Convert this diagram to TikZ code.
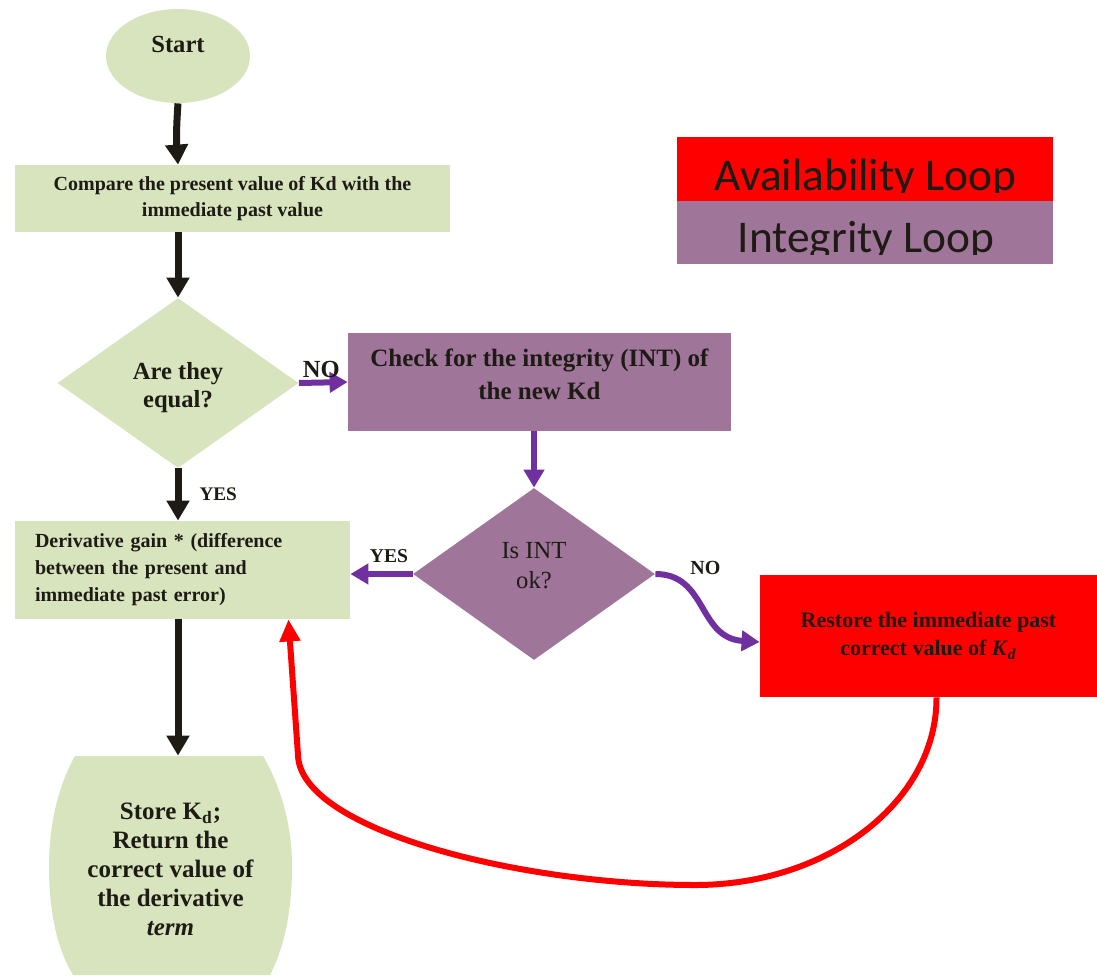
\documentclass[tikz,border=0pt]{standalone}
\usepackage{fontspec}
\setmainfont{Liberation Serif}
\newfontfamily\legendfont{Carlito}
\usetikzlibrary{shapes.geometric,arrows.meta,calc}
\definecolor{pale}{HTML}{D7E4BD}
\definecolor{mauve}{HTML}{A0759A}
\definecolor{arrowviolet}{HTML}{7030A0}
\definecolor{ink}{HTML}{1E1B15}

\begin{document}
\begin{tikzpicture}[x=0.5pt,y=-0.5pt,
	greenbox/.style={rectangle,fill=pale,text=ink,inner sep=0pt,align=center},
	mauvebox/.style={rectangle,fill=mauve,text=ink,inner sep=0pt,align=center},
	decision/.style={diamond,inner sep=0pt,text=ink,align=center},
	blk/.style={line width=3.5pt,draw=ink,-{Triangle[width=11pt,length=10pt]}},
	vio/.style={line width=3pt,draw=arrowviolet,-{Triangle[width=10pt,length=9pt]}},
	redline/.style={line width=3pt,draw=red,-{Triangle[width=10pt,length=11pt]}},
	lbl/.style={text=ink,inner sep=0pt}]
	\useasboundingbox (0,0) rectangle (1097,975);
	\node[ellipse,fill=pale,minimum width=72pt,minimum height=47pt,inner sep=0pt,
		label={[font=\fontsize{12.3}{14}\bfseries,text=ink,yshift=6pt]center:Start}] (start) at (178,56) {}; %start
	\node[greenbox,minimum width=217.5pt,minimum height=33.5pt,font=\fontsize{10}{13}\bfseries] (compare) at (232.5,198.5)
		{Compare the present value of Kd with the\\immediate past value};
	\node[decision,fill=pale,minimum width=120.5pt,minimum height=85pt,
		label={[align=center,text=ink,font=\fontsize{12.3}{14}\bfseries,yshift=-2.5pt]center:{Are they\\equal?}}] (equal) at (178,383) {};
	\node[mauvebox,minimum width=191.5pt,minimum height=49pt,
		label={[align=center,text=ink,font=\fontsize{12.5}{16.5}\bfseries,yshift=3.75pt]center:{Check for the integrity (INT) of\\the new Kd}}] (check) at (539.5,382) {};
	\node[decision,fill=mauve,minimum width=121pt,minimum height=86pt,
		label={[align=center,text=ink,font=\fontsize{12.3}{15}\selectfont,yshift=4pt]center:{Is INT\\ok?}}] (int) at (534,574) {};
	\node[greenbox,align=left,text width=147.5pt,inner xsep=10pt,minimum height=49pt,font=\fontsize{10}{13.5}\bfseries] (deriv) at (182.5,570)
		{Derivative gain * (difference\\between the present and\\immediate past error)};
	\node[rectangle,fill=red,text=ink,minimum width=168.5pt,minimum height=61pt,inner sep=0pt,align=center,font=\fontsize{11}{14}\bfseries] (restore) at (928.5,636)
		{Restore the immediate past\\correct value of \textit{K}\textsubscript{\textit{d}}};
	\fill[pale] (75,756) -- (263,756) .. controls (283,790) and (292,830) .. (292,866)
		.. controls (292,915) and (283,950) .. (270,975) -- (73,975) .. controls (58,950) and (49,915) .. (49,866)
		.. controls (49,830) and (56,790) .. (75,756) -- cycle; %store shape
	\node[align=center,text=ink,minimum width=121.5pt,minimum height=113.5pt,inner sep=0pt,font=\fontsize{12.5}{14.5}\bfseries] (store) at (170.5,869.5)
		{Store K\textsubscript{d};\\Return the\\correct value of\\the derivative\\\textit{term}};
	%legend
	\node[rectangle,fill=red,minimum width=188pt,minimum height=32pt,inner sep=0pt] (avail) at (865,169) {};
	\node[rectangle,fill=mauve,minimum width=188pt,minimum height=31.5pt,inner sep=0pt] (integ) at (865,232.5) {};
	\begin{scope}
		\clip (avail.north west) rectangle ([yshift=-27.75pt]avail.north east);
		\node[anchor=base,text=ink,inner sep=0pt,font=\legendfont\fontsize{22.7}{26}\selectfont] (availtext) at (865.5,190) {Availability Loop};
	\end{scope}
	\begin{scope}
		\clip (integ.north west) rectangle ([yshift=-26.75pt]integ.north east);
		\node[anchor=base,text=ink,inner sep=0pt,font=\legendfont\fontsize{22.7}{26}\selectfont] (integtext) at (866,252) {Integrity Loop};
	\end{scope}
	%arrows
	\draw[blk] (start.south) to[bend right=4] (start.south |- compare.north);
	\draw[blk] (equal.north |- compare.south) -- (equal.north);
	\draw[blk] (equal.south) -- (equal.south |- deriv.north) node[lbl,midway,right=9pt,font=\fontsize{9.6}{12}\bfseries] {YES};
	\draw[vio] (equal.east) -- (check.west) node[lbl,pos=0.46,above=1pt,font=\fontsize{12.3}{14}\bfseries] {NO};
	\draw[vio] (check.south -| int.north) -- (int.north);
	\draw[vio] (int.west) -- (int.west -| deriv.east) node[lbl,pos=0.38,above=4pt,font=\fontsize{9.8}{12}\bfseries] {YES};
	\draw[vio] (int.east) .. controls +(52,0) and +(-62,-4) .. ([yshift=-3pt]restore.west);
	\node[lbl,font=\fontsize{10}{12}\bfseries] (no) at ([xshift=25pt,yshift=3pt]int.east) {NO};
	\draw[redline] ([xshift=4pt]restore.south) .. controls (937,800) and (830,885) .. (695,885)
		.. controls (520,885) and (300,830) .. (298,755) -- ([xshift=-31pt]deriv.south east); %availability loop
	\draw[blk] (equal.south |- deriv.south) -- (equal.south |- store.north);
\end{tikzpicture}
\end{document}
